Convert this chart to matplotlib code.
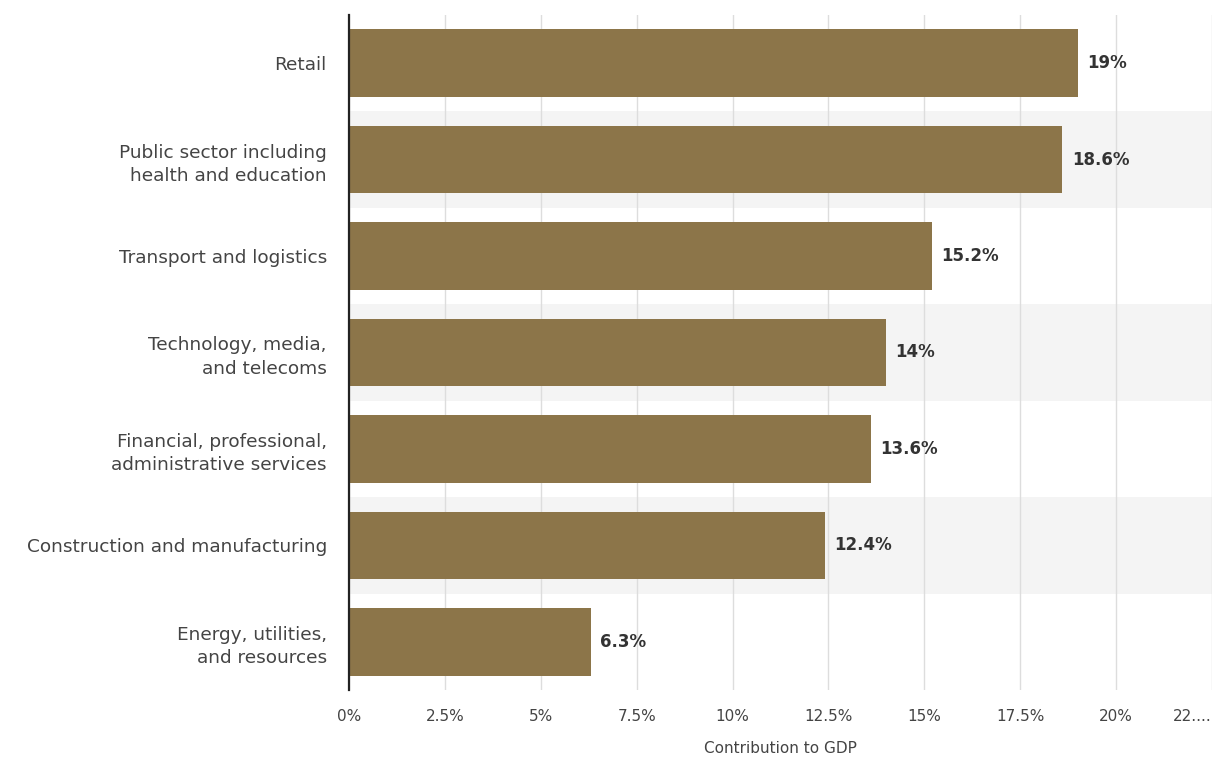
import matplotlib.pyplot as plt
import numpy as np

# Data
sectors = [
    "Retail",
    "Public sector including\nhealth and education",
    "Transport and logistics",
    "Technology, media,\nand telecoms",
    "Financial, professional,\nadministrative services",
    "Construction and manufacturing",
    "Energy, utilities,\nand resources",
]
shares = [19.0, 18.6, 15.2, 14.0, 13.6, 12.4, 6.3]
value_labels = ["19%", "18.6%", "15.2%", "14%", "13.6%", "12.4%", "6.3%"]
x_ticks = [0, 2.5, 5, 7.5, 10, 12.5, 15, 17.5, 20, 22.5]
x_tick_labels = ["0%", "2.5%", "5%", "7.5%", "10%", "12.5%", "15%", "17.5%", "20%", "22...."]

BAR_COLOR = "#8c7549"
BAND_COLOR = "#f4f4f4"
TEXT_COLOR = "#444444"

plt.rcParams['font.family'] = ['DejaVu Sans']

fig = plt.figure(figsize=(12.17, 7.6), dpi=100)
ax = fig.add_axes([0.2868, 0.0921, 0.7091, 0.8882])

y = np.arange(len(sectors))

# alternating row bands
for i in y:
    if i % 2 == 1:
        ax.axhspan(i - 0.5, i + 0.5, color=BAND_COLOR, zorder=0, lw=0)

ax.barh(y, shares, height=0.7, color=BAR_COLOR, zorder=3)

for yi, v, lab in zip(y, shares, value_labels):
    ax.text(v + 0.25, yi, lab, va="center", ha="left", fontsize=12,
            fontweight="bold", color="#333333", zorder=4)

ax.set_xlim(0, 22.5)
ax.set_ylim(len(sectors) - 0.5, -0.5)
ax.set_xticks(x_ticks)
ax.set_xticklabels(x_tick_labels, fontsize=11, color=TEXT_COLOR)
# last label is truncated in the original and sits flush to the right edge
ax.get_xticklabels()[-1].set_horizontalalignment("right")
ax.set_yticks(y)
ax.set_yticklabels(sectors, fontsize=13.3, color=TEXT_COLOR, linespacing=1.38)
ax.tick_params(axis="y", length=0, pad=16)
ax.tick_params(axis="x", length=0, pad=14)

ax.grid(axis="x", color="#dddddd", lw=1, zorder=1)
ax.set_axisbelow(True)

for side in ["top", "right", "bottom"]:
    ax.spines[side].set_visible(False)
ax.spines["left"].set_color("#222222")
ax.spines["left"].set_linewidth(1.6)
ax.spines["left"].set_zorder(5)

ax.set_xlabel("Contribution to GDP", fontsize=11, color=TEXT_COLOR, labelpad=12)

fig.savefig("out.png", dpi=100)
